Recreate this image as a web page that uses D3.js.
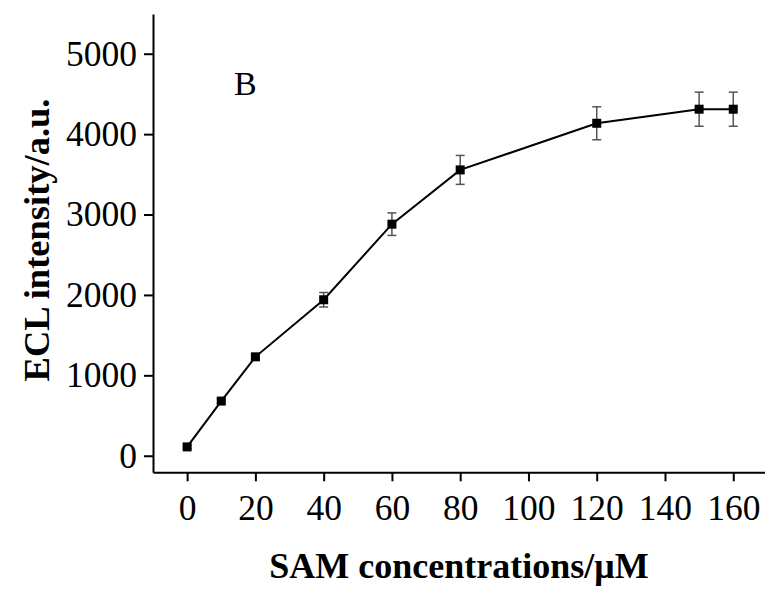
<!DOCTYPE html>
<html><head><meta charset="utf-8">
<script src="https://cdn.jsdelivr.net/npm/d3@7"></script>
<style>body{margin:0;background:#fff}svg{display:block}</style>
</head><body>
<svg id="c" width="765" height="590"></svg>
<script>
const concentrations = [0, 10, 20, 40, 60, 80, 120, 150, 160];
const intensity = [110, 680, 1230, 1940, 2880, 3555, 4135, 4310, 4310];
const errors = [20, 25, 35, 90, 140, 180, 205, 212, 212];
const xTicks = [0, 20, 40, 60, 80, 100, 120, 140, 160];
const yTicks = [0, 1000, 2000, 3000, 4000, 5000];

const font = '"Liberation Serif","Times New Roman",serif';
const svg = d3.select('#c');
const x = d3.scaleLinear().domain([-10, 169.3]).range([153, 765]);
const y = d3.scaleLinear().domain([-206, 5494]).range([472.3, 14]);

const gx = svg.append('g').attr('transform', 'translate(0,472.3)')
  .call(d3.axisBottom(x).tickValues(xTicks).tickFormat(d3.format('d')).tickSize(9).tickPadding(13).tickSizeOuter(0));
const gy = svg.append('g').attr('transform', 'translate(153,0)')
  .call(d3.axisLeft(y).tickValues(yTicks).tickFormat(d3.format('d')).tickSize(9).tickPadding(7).tickSizeOuter(0));
[gx, gy].forEach(g => {
  g.select('.domain').attr('stroke', '#000').attr('stroke-width', 2);
  g.selectAll('.tick line').attr('stroke', '#000').attr('stroke-width', 2);
  g.selectAll('.tick text').attr('font-family', font).attr('font-size', 35.5).attr('fill', '#000');
});

const data = concentrations.map((c, i) => ({c, v: intensity[i], e: errors[i]}));

// error bars
const eb = svg.append('g').attr('stroke', '#555').attr('stroke-width', 1.5);
data.forEach(d => {
  eb.append('line').attr('x1', x(d.c)).attr('x2', x(d.c)).attr('y1', y(d.v - d.e)).attr('y2', y(d.v + d.e));
  [d.v - d.e, d.v + d.e].forEach(v => eb.append('line')
    .attr('x1', x(d.c) - 4.5).attr('x2', x(d.c) + 4.5).attr('y1', y(v)).attr('y2', y(v)));
});

svg.append('path').datum(data)
  .attr('d', d3.line().x(d => x(d.c)).y(d => y(d.v)))
  .attr('fill', 'none').attr('stroke', '#000').attr('stroke-width', 2);

svg.append('g').selectAll('rect').data(data).join('rect')
  .attr('x', d => x(d.c) - 4.5).attr('y', d => y(d.v) - 4.5)
  .attr('width', 9).attr('height', 9).attr('fill', '#000');

svg.append('text').attr('x', 234).attr('y', 95).attr('font-family', font)
  .attr('font-size', 34).text('B');

svg.append('text').attr('x', 459).attr('y', 578).attr('text-anchor', 'middle')
  .attr('font-family', font).attr('font-weight', 'bold').attr('font-size', 36)
  .text('SAM concentrations/μM');

svg.append('text').attr('transform', 'translate(49,240) rotate(-90)').attr('text-anchor', 'middle')
  .attr('font-family', font).attr('font-weight', 'bold').attr('font-size', 36.5)
  .text('ECL intensity/a.u.');
</script>
</body></html>
